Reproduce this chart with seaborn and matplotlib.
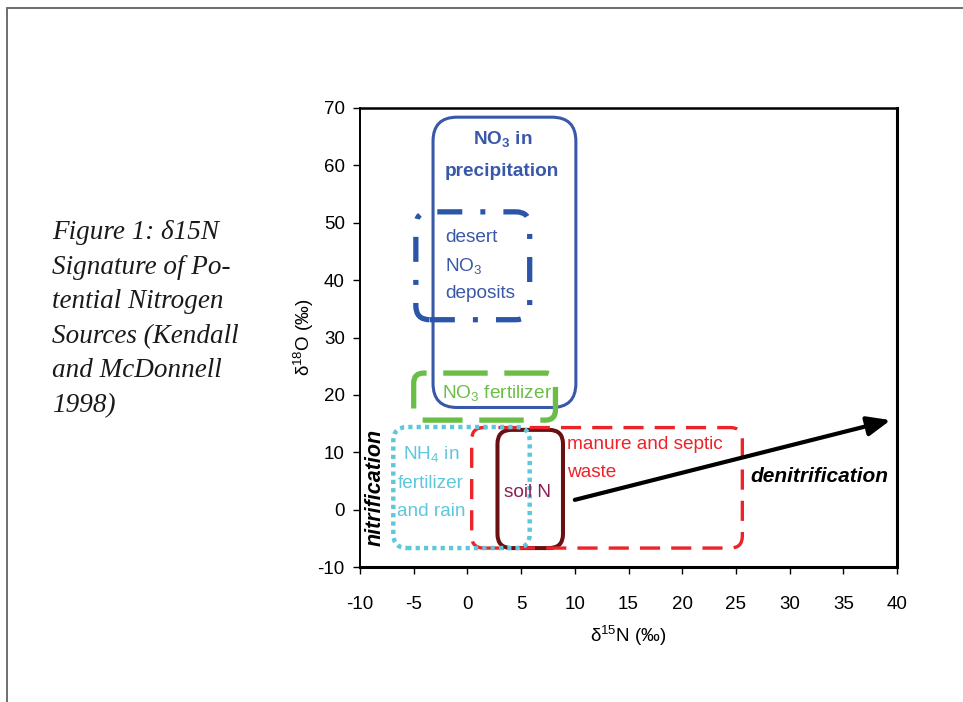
import matplotlib
matplotlib.use("Agg")
import matplotlib.pyplot as plt
from matplotlib.patches import FancyBboxPatch
from matplotlib.lines import Line2D
import seaborn as sns

# Isotopic fields of nitrogen sources: delta15N and delta18O ranges (permil)
sources = ["NO3 in precipitation", "desert NO3 deposits", "NO3 fertilizer",
           "soil N", "manure and septic waste", "NH4 in fertilizer and rain"]
d15n_low = [-3.2, -4.8, -5.0, 2.8, 0.4, -6.9]
d15n_high = [10.1, 5.8, 8.2, 8.9, 25.6, 5.8]
d18o_low = [17.8, 33.1, 15.6, -6.7, -6.7, -6.7]
d18o_high = [68.4, 51.9, 23.8, 13.9, 14.3, 14.4]

# Denitrification trend (start -> end)
trend_d15n = [10.0, 39.4]
trend_d18o = [1.7, 15.6]

x_ticks = list(range(-10, 45, 5))
y_ticks = list(range(-10, 80, 10))

caption_lines = ["Figure 1: δ15N", "Signature of Po-", "tential Nitrogen",
                 "Sources (Kendall", "and McDonnell", "1998)"]

sns.set_theme(style="white")
plt.rcParams["font.family"] = ["Liberation Sans", "DejaVu Sans"]
plt.rcParams["mathtext.fontset"] = "custom"
plt.rcParams["mathtext.rm"] = "Liberation Sans"
plt.rcParams["mathtext.it"] = "Liberation Sans:italic"
plt.rcParams["mathtext.bf"] = "Liberation Sans:bold"
plt.rcParams["lines.scale_dashes"] = False
plt.rcParams["axes.unicode_minus"] = False

W, H, DPI = 9.63, 7.02, 100
fig = plt.figure(figsize=(W, H), dpi=DPI)
fig.patch.set_facecolor("white")

# axes placement (pixels of the page)
L, R, T, B = 360, 897, 108, 567
ax = fig.add_axes([L / 963, (702 - B) / 702, (R - L) / 963, (B - T) / 702])
ax.set_facecolor("white")
ax.set_xlim(-10, 40)
ax.set_ylim(-10, 70)
ax.set_xticks(x_ticks)
ax.set_yticks(y_ticks)
ax.tick_params(axis="both", which="major", direction="out", length=5, width=1,
               color="black", labelsize=13.5, labelcolor="black",
               bottom=True, left=True)
ax.tick_params(axis="x", pad=16)
ax.tick_params(axis="y", pad=6)
for side, lw in [("left", 1.4), ("top", 1.8), ("right", 2.2), ("bottom", 2.2)]:
    ax.spines[side].set_visible(True)
    ax.spines[side].set_color("black")
    ax.spines[side].set_linewidth(lw)

ax.set_xlabel("δ$^{15}$N (‰)", fontsize=13.5, labelpad=8, color="black")
ax.set_ylabel("δ$^{18}$O (‰)", fontsize=13.5, labelpad=1, color="black")

# pixel-per-unit ratio so rounded corners stay circular on screen
px_x = (R - L) / 50.0
px_y = (B - T) / 80.0
aspect = px_x / px_y

styles = {
    "NO3 in precipitation": dict(color="#3a58a8", lw=2.2, ls="-", r=24),
    "desert NO3 deposits": dict(color="#2a55a8", lw=3.8,
                                ls=(0, (18, 13, 3.6, 13)), r=14),
    "NO3 fertilizer": dict(color="#6abd45", lw=3.8, ls=(4, (32, 12)), r=10),
    "soil N": dict(color="#6a0f12", lw=2.9, ls="-", r=14),
    "manure and septic waste": dict(color="#ee2229", lw=2.4,
                                    ls=(0, (14.5, 8)), r=12),
    "NH4 in fertilizer and rain": dict(color="#5ec7dc", lw=3.2,
                                       ls=(0, (3.0, 3.0)), r=14),
}

for i, name in enumerate(sources):
    st = styles[name]
    patch = FancyBboxPatch(
        (d15n_low[i], d18o_low[i]),
        d15n_high[i] - d15n_low[i],
        d18o_high[i] - d18o_low[i],
        boxstyle=f"round,pad=0,rounding_size={st['r'] / px_x:.3f}",
        mutation_aspect=aspect,
        facecolor="none", edgecolor=st["color"], linewidth=st["lw"],
        linestyle=st["ls"], zorder=3 + i, transform=ax.transData,
        clip_on=False)
    ax.add_patch(patch)

# Field labels
FS = 13.7
blue = "#3a58a8"
ax.text(3.25, 64.6, r"NO$_\mathbf{3}$ in", color=blue, fontsize=FS,
        fontweight="bold", ha="center", va="center", zorder=10)
ax.text(3.25, 59.0, "precipitation", color=blue, fontsize=FS,
        fontweight="bold", ha="center", va="center", zorder=10)
for txt, yy in [("desert", 47.5), ("NO$_3$", 42.5), ("deposits", 37.6)]:
    ax.text(-2.1, yy, txt, color=blue, fontsize=FS, ha="left",
            va="center", zorder=10)
ax.text(2.75, 20.3, "NO$_3$ fertilizer", color="#6abd45", fontsize=FS,
        ha="center", va="center", zorder=10)
for txt, yy in [("NH$_4$ in", 9.7), ("fertilizer", 4.5), ("and rain", -0.4)]:
    ax.text(-3.4, yy, txt, color="#5ec7dc", fontsize=FS, ha="center",
            va="center", zorder=10)
ax.text(5.55, 2.9, "soil N", color="#8a1f55", fontsize=FS, ha="center",
        va="center", zorder=10)
for txt, yy in [("manure and septic", 11.3), ("waste", 6.4)]:
    ax.text(9.3, yy, txt, color="#ee2229", fontsize=FS, ha="left",
            va="center", zorder=10)

# Process annotations
ax.annotate("", xy=(trend_d15n[1], trend_d18o[1]),
            xytext=(trend_d15n[0], trend_d18o[0]),
            arrowprops=dict(arrowstyle="-|>,head_length=1.0,head_width=0.42",
                            mutation_scale=14, lw=3, color="black",
                            shrinkA=0, shrinkB=0), zorder=12)
ax.text(32.8, 5.7, "denitrification", fontsize=15, fontweight="bold",
        fontstyle="italic", ha="center", va="center", color="black",
        zorder=12)
ax.text(-8.55, 3.8, "nitrification", fontsize=15.5, fontweight="bold",
        fontstyle="italic", rotation=90, ha="center", va="center",
        color="black", zorder=12)

# Caption at the left of the page
for k, line in enumerate(caption_lines):
    fig.text(52 / 963, 1 - (239 + 34.6 * k) / 702, line,
             family=["Liberation Serif", "DejaVu Serif"], style="italic",
             fontsize=19.5, color="#1a1a1a", ha="left", va="baseline")

# Page frame (top and left rules)
fig.add_artist(Line2D([6.5 / 963, 1.0], [1 - 7.5 / 702, 1 - 7.5 / 702],
                      transform=fig.transFigure, color="#6e6e6e", lw=1.4))
fig.add_artist(Line2D([6.5 / 963, 6.5 / 963], [0, 1 - 7.5 / 702],
                      transform=fig.transFigure, color="#6e6e6e", lw=1.4))

fig.savefig("out.png", dpi=DPI, facecolor="white")
